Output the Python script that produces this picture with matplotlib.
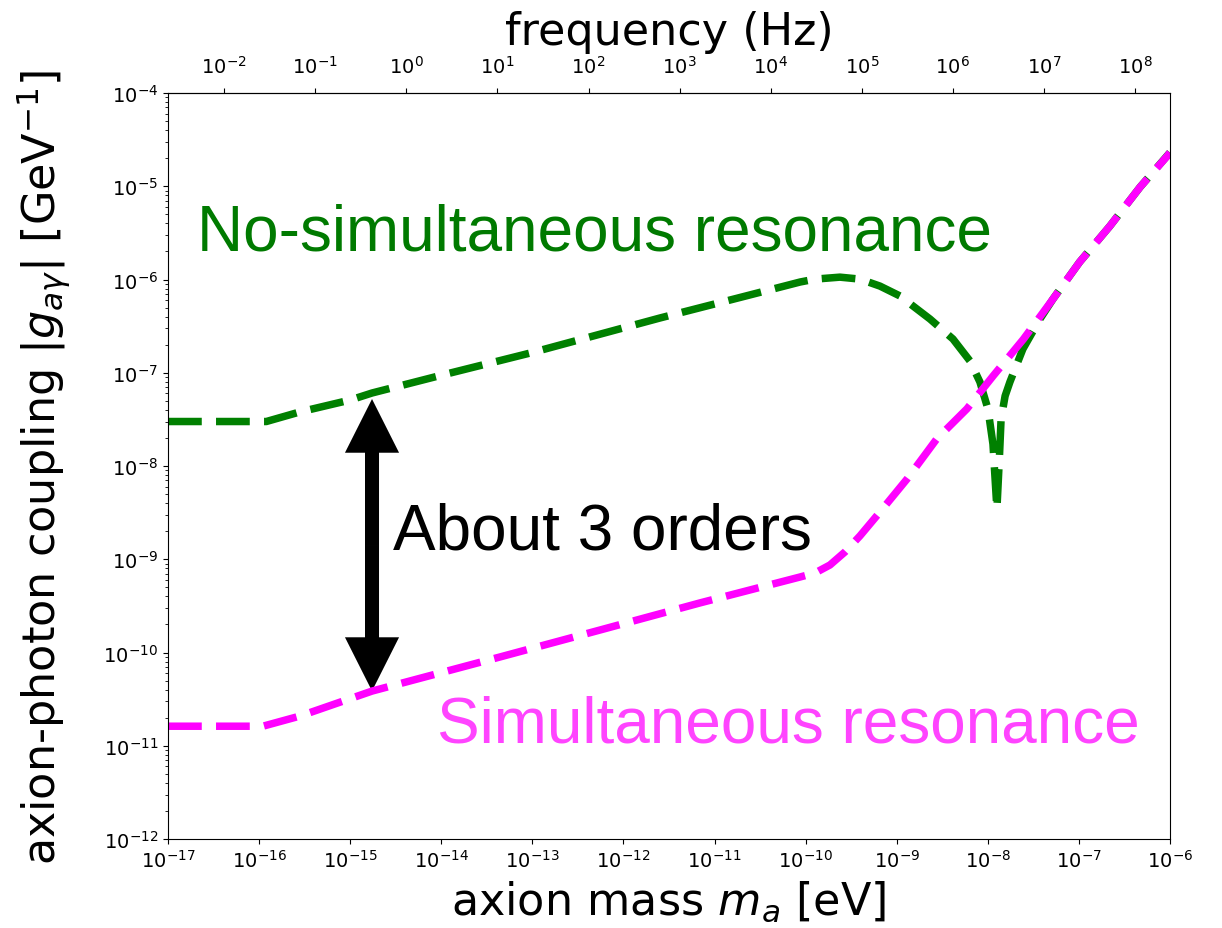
import numpy as np
import matplotlib
matplotlib.use("Agg")
import matplotlib.pyplot as plt
from matplotlib.ticker import NullLocator, LogLocator, FixedLocator
from matplotlib.patches import FancyArrow

# values
mass_green = [1e-17, 1.2e-16, 2.8e-16, 1.0e-15, 1.74e-15, 1.0e-14, 1.0e-13, 2.5e-12,
              2.4e-11, 8.7e-11, 1.27e-10, 2.38e-10, 3.95e-10, 6.55e-10, 1.09e-9,
              1.51e-9, 2.32e-9, 4.15e-9, 6.37e-9, 8.2e-9, 1.005e-8, 1.14e-8, 1.26e-8,
              1.34e-8, 1.40e-8, 1.55e-8, 1.75e-8, 2.43e-8, 3.74e-8, 5.2e-8,
              1.02e-7, 2.19e-7, 4.7e-7, 1e-6]
coup_green = [3.0e-8, 3.0e-8, 3.8e-8, 5.1e-8, 6.07e-8, 9.4e-8, 1.65e-7, 3.86e-7,
              6.8e-7, 9.4e-7, 1.01e-6, 1.06e-6, 1.01e-6, 8.5e-7, 6.65e-7,
              5.2e-7, 3.77e-7, 2.3e-7, 1.34e-7, 7.96e-8, 4.08e-8, 1.72e-8, 3.46e-9,
              1.19e-8, 3.19e-8, 5.64e-8, 7.96e-8, 1.8e-7, 3.77e-7, 6.18e-7,
              1.54e-6, 3.74e-6, 9.8e-6, 2.3e-5]

mass_mag = [1e-17, 1.1e-16, 2.8e-16, 1.74e-15, 4.4e-14, 5.5e-13, 6.9e-12, 8.67e-11,
            1.27e-10, 1.85e-10, 2.71e-10, 3.95e-10, 6.55e-10, 1.30e-9, 2.75e-9,
            5.9e-9, 1.15e-8, 2.46e-8, 5.2e-8, 1.02e-7, 2.19e-7, 4.7e-7, 9.3e-7, 1e-6]
coup_mag = [1.62e-11, 1.62e-11, 2.08e-11, 3.86e-11, 8.95e-11, 1.74e-10, 3.4e-10, 6.45e-10,
            7.13e-10, 8.68e-10, 1.2e-9, 1.78e-9, 3.21e-9, 7.26e-9, 1.95e-8,
            4.1e-8, 9.3e-8, 2.29e-7, 6.18e-7, 1.54e-6, 3.74e-6, 9.8e-6, 2.1e-5, 2.3e-5]

freq_ticks = [1e-2, 1e-1, 1e0, 1e1, 1e2, 1e3, 1e4, 1e5, 1e6, 1e7, 1e8]
h_planck = 4.135667e-15  # eV s

fig = plt.figure(figsize=(12.22, 9.29), dpi=100)
ax = fig.add_axes([0.1375, 0.0958, 0.8199, 0.803])

ax.plot(mass_green, coup_green, color="green", lw=5.4, ls=(0, (4.5, 1.9)))
ax.plot(mass_mag, coup_mag, color="#ff00ff", lw=5.4, ls=(0, (4.5, 1.9)))

ax.set_xscale("log")
ax.set_yscale("log")
ax.set_xlim(1e-17, 1e-6)
ax.set_ylim(1e-12, 1e-4)
ax.xaxis.set_major_locator(LogLocator(base=10, numticks=20))
ax.yaxis.set_major_locator(LogLocator(base=10, numticks=20))
ax.tick_params(labelsize=14)

ax.set_xlabel("axion mass $m_a$ [eV]", fontsize=32, labelpad=6)
ax.set_ylabel(r"axion-photon coupling $|g_{a\gamma}|$ [GeV$^{-1}$]", fontsize=32,
              labelpad=22)

top = ax.secondary_xaxis("top", functions=(lambda m: m / h_planck, lambda f: f * h_planck))
top.xaxis.set_major_locator(FixedLocator(freq_ticks))
top.xaxis.set_minor_locator(NullLocator())
top.tick_params(labelsize=14, pad=8)
top.set_xlabel("frequency (Hz)", fontsize=32, labelpad=8)

# double arrow between the two curves (axes fraction)
ax_x = 0.2036
tip_top, tip_bot = 0.5898, 0.1984
mid = (tip_top + tip_bot) / 2
for tip in (tip_top, tip_bot):
    ax.add_patch(FancyArrow(ax_x, mid, 0, tip - mid, width=0.014, head_width=0.054,
                            head_length=0.072, length_includes_head=True,
                            transform=ax.transAxes, color="black", lw=0))

ax.text(2.09e-17, 2.1e-6, "No-simultaneous resonance", fontsize=46,
        family="Liberation Sans", color="#007a00", va="baseline", ha="left")
ax.text(2.95e-15, 1.3e-9, "About 3 orders", fontsize=46,
        family="Liberation Sans", color="black", va="baseline", ha="left")
ax.text(9.0e-15, 1.12e-11, "Simultaneous resonance", fontsize=46,
        family="Liberation Sans", color="#ff44ff", va="baseline", ha="left")

fig.savefig("out.png", dpi=100)
